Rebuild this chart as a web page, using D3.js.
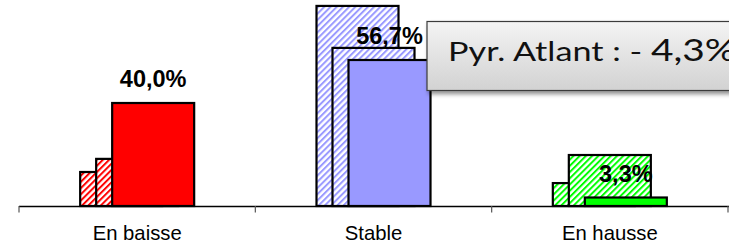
<!DOCTYPE html>
<html><head><meta charset="utf-8">
<script src="https://cdn.jsdelivr.net/npm/d3@7"></script>
<style>body{margin:0;background:#fff;overflow:hidden}svg{display:block}</style>
</head><body>
<svg id="c" width="729" height="243"></svg>
<script>
const categories = ["En baisse", "Stable", "En hausse"];
const series1 = [13.2, 77.7, 8.9];   // back hatched
const series2 = [18.3, 61.4, 19.8];  // middle hatched
const series3 = [40.0, 56.7, 3.3];   // front solid
const valueLabels = ["40,0%", "56,7%", "3,3%"];
const colors = ["#ff0000", "#9999ff", "#00ff00"];
const calloutPrefix = "Pyr. Atlant : - ";
const calloutValue = "4,3%";

const svg = d3.select("#c");
const x = d3.scaleBand().domain(categories).range([19, 728]).padding(0);
const y = d3.scaleLinear().domain([0, 80]).range([206, 0]);

const defs = svg.append("defs");
colors.forEach((c, i) => {
  const p = defs.append("pattern").attr("id", "h" + i)
    .attr("patternUnits", "userSpaceOnUse").attr("width", 4.4).attr("height", 10)
    .attr("patternTransform", "rotate(45)");
  p.append("rect").attr("width", 4.4).attr("height", 10).attr("fill", "#fff");
  p.append("rect").attr("width", 2).attr("height", 10).attr("fill", c);
});
const grad = defs.append("linearGradient").attr("id", "bg").attr("x1", 0).attr("y1", 0).attr("x2", 0).attr("y2", 1);
grad.append("stop").attr("offset", 0).attr("stop-color", "#f4f4f4");
grad.append("stop").attr("offset", 1).attr("stop-color", "#d2d2d2");
const f = defs.append("filter").attr("id", "sh").attr("x", "-10%").attr("y", "-20%").attr("width", "130%").attr("height", "160%");
f.append("feDropShadow").attr("dx", 2).attr("dy", 3).attr("stdDeviation", 2).attr("flood-color", "#000").attr("flood-opacity", 0.45);

const bw = x.bandwidth() * 0.347;
const off = x.bandwidth() * 0.0677;
const groupW = bw + 2 * off;

const layers = [
  {vals: series1, fill: i => "url(#h" + i + ")", k: 0},
  {vals: series2, fill: i => "url(#h" + i + ")", k: 1},
  {vals: series3, fill: i => colors[i], k: 2}
];
layers.forEach(L => {
  svg.append("g").selectAll("rect").data(categories).join("rect")
    .attr("x", d => x(d) + x.bandwidth() / 2 - groupW / 2 + L.k * off)
    .attr("y", (d, i) => y(L.vals[i]))
    .attr("width", bw)
    .attr("height", (d, i) => y(0) - y(L.vals[i]))
    .attr("fill", (d, i) => L.fill(i))
    .attr("stroke", "#000").attr("stroke-width", 2.2);
});

// value labels
svg.append("g").selectAll("text").data(categories).join("text")
  .attr("x", d => x(d) + x.bandwidth() / 2 - groupW / 2 + 2 * off + bw / 2)
  .attr("y", (d, i) => y(series3[i]) - 16)
  .attr("text-anchor", "middle")
  .attr("font-family", "Liberation Sans, Arial, sans-serif")
  .attr("font-weight", "bold").attr("font-size", 23.5)
  .attr("fill", "#000")
  .text((d, i) => valueLabels[i]);

// axis
const ax = svg.append("g").attr("transform", "translate(0,206)")
  .call(d3.axisBottom(x).tickSize(0).tickPadding(0));
ax.select(".domain").remove();
ax.selectAll(".tick text").attr("font-family", "Liberation Sans, Arial, sans-serif")
  .attr("font-size", 20.3).attr("fill", "#000").attr("dy", 0).attr("y", 34);
svg.append("line").attr("x1", 19).attr("x2", 729).attr("y1", 206.5).attr("y2", 206.5)
  .attr("stroke", "#000").attr("stroke-width", 1.3);
const bounds = categories.map(c => x(c)).concat([x.range()[1]]);
svg.append("g").selectAll("line").data(bounds).join("line")
  .attr("x1", d => d).attr("x2", d => d).attr("y1", 206).attr("y2", 212.5)
  .attr("stroke", "#555").attr("stroke-width", 1.2);

// callout box
const cb = svg.append("g");
cb.append("rect").attr("x", 427).attr("y", 21.5).attr("width", 330).attr("height", 69)
  .attr("fill", "url(#bg)").attr("stroke", "#3a3a3a").attr("stroke-width", 1.2)
  .attr("filter", "url(#sh)");
const t = cb.append("text").attr("y", 61)
  .attr("font-family", "Lato, 'Open Sans', sans-serif").attr("fill", "#111");
t.append("tspan").attr("x", 448).attr("font-size", 26.5)
  .attr("textLength", 203).attr("lengthAdjust", "spacingAndGlyphs").text(calloutPrefix);
t.append("tspan").attr("x", 651).attr("font-size", 31)
  .attr("textLength", 85).attr("lengthAdjust", "spacingAndGlyphs").text(calloutValue);
</script>
</body></html>
